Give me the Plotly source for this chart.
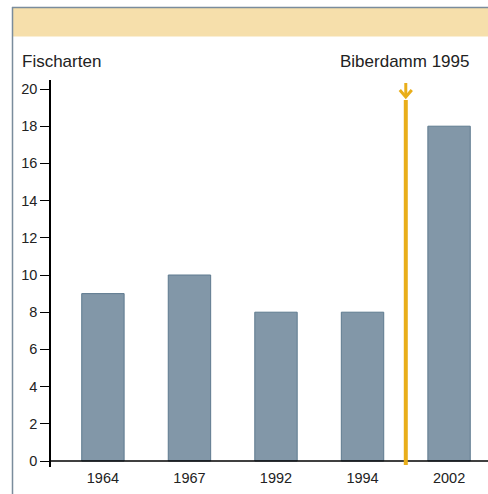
import plotly.graph_objects as go

years = ["1964", "1967", "1992", "1994", "2002"]
species = [9, 10, 8, 8, 18]
y_ticks = [0, 2, 4, 6, 8, 10, 12, 14, 16, 18, 20]
dam_label = "Biberdamm 1995"
dam_pos = 3.5
y_title = "Fischarten"

W, H = 488, 494
# plot area in reference pixel coords
PX0, PX1, PY0, PY1 = 51, 488, 80, 467
L, R, T, B = PX0, W - PX1, PY0, H - PY1
pw, ph = PX1 - PX0, PY1 - PY0

def px(X):
    return (X - PX0) / pw

def py(Y):
    return (PY1 - Y) / ph

orange = "#e9ae1a"
font = "Liberation Sans"

fig = go.Figure()
fig.add_trace(go.Bar(
    x=years, y=species, width=0.49,
    marker=dict(color="#8297a8", line=dict(color="#5e7a8f", width=1)),
    hoverinfo="skip",
))

shapes = [
    dict(type="rect", xref="paper", yref="paper", x0=px(12), x1=px(489), y0=py(7), y1=py(36.5),
         fillcolor="#f6dfab", line=dict(width=0), layer="below"),
    dict(type="line", xref="paper", yref="paper", x0=px(12), x1=px(489), y0=py(7.5), y1=py(7.5),
         line=dict(color="#7a8c9c", width=1.5)),
    dict(type="line", xref="paper", yref="paper", x0=px(12.5), x1=px(12.5), y0=py(7), y1=py(495),
         line=dict(color="#7a8c9c", width=1.5)),
    dict(type="line", xref="paper", yref="y", x0=0, x1=1, y0=0, y1=0,
         line=dict(color="black", width=1.5)),
    dict(type="line", xref="x", yref="paper", x0=dam_pos, x1=dam_pos, y0=py(465), y1=py(100),
         line=dict(color=orange, width=4)),
    dict(type="line", xref="x", yref="paper", x0=dam_pos, x1=dam_pos, y0=py(83), y1=py(96),
         line=dict(color=orange, width=3)),
]
fig.update_layout(shapes=shapes)

ax = PX0 + (dam_pos + 0.6) * pw / 5.05
fig.add_shape(type="path", xref="paper", yref="paper",
              path=f"M {px(ax-6)} {py(90)} L {px(ax)} {py(97)} L {px(ax+6)} {py(90)}",
              line=dict(color=orange, width=3))

fig.add_annotation(text=y_title, xref="paper", yref="paper", x=px(20), y=py(62),
                   xanchor="left", yanchor="middle", showarrow=False,
                   font=dict(family=font, size=17, color="#222"))
fig.add_annotation(text=dam_label, xref="paper", yref="paper", x=px(471), y=py(62),
                   xanchor="right", yanchor="middle", showarrow=False,
                   font=dict(family=font, size=17, color="#222"))

fig.update_layout(
    width=W, height=H,
    margin=dict(l=L, r=R, t=T, b=B, pad=0),
    paper_bgcolor="white", plot_bgcolor="white",
    showlegend=False,
    font=dict(family=font, size=14, color="#222"),
    xaxis=dict(type="category", range=[-0.6, 4.45], showgrid=False, showline=False,
               ticks="", tickfont=dict(size=14.5, color="#222"), fixedrange=True),
    yaxis=dict(range=[-6/18.6, 20 + 9/18.6], tickvals=y_ticks, showgrid=False,
               zeroline=False, showline=True, linecolor="black", linewidth=1.5,
               ticks="outside", ticklen=9, tickcolor="black", tickwidth=1,
               tickfont=dict(size=14.5, color="#222"), fixedrange=True),
)

fig.write_html("out.html", config={"displayModeBar": False},
               post_script="document.body.style.margin='0';document.body.style.overflow='hidden';")
